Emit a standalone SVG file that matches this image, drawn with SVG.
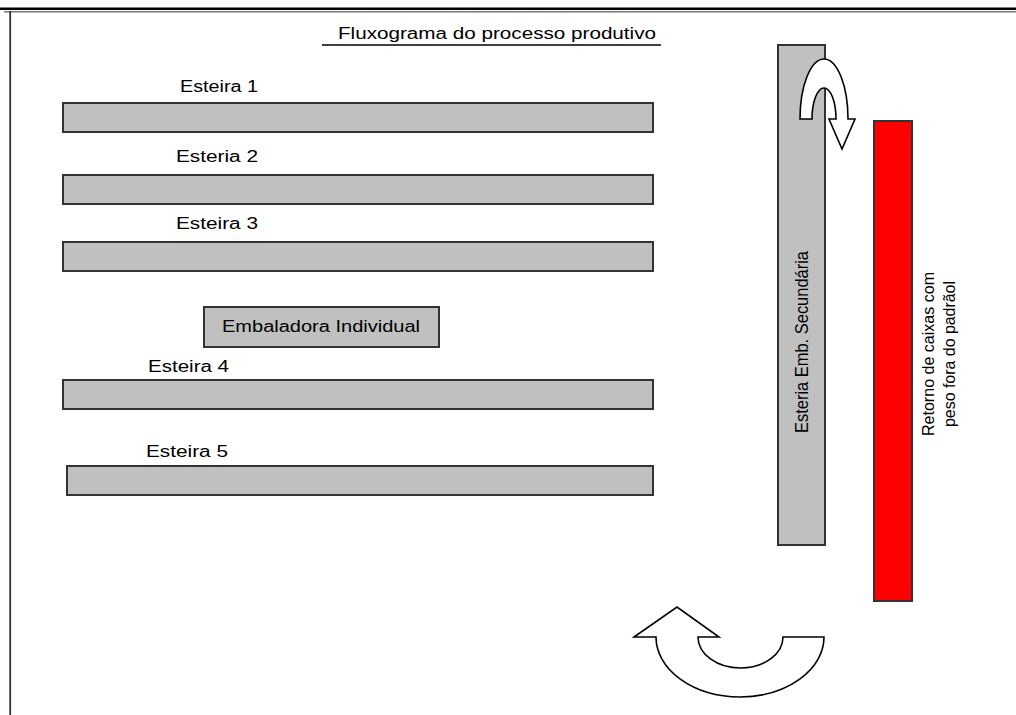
<svg xmlns="http://www.w3.org/2000/svg" width="1016" height="715" viewBox="0 0 1016 715">
<style>
.bar{fill:#c0c0c0;stroke:#333;stroke-width:2}
.red{fill:#ff0000;stroke:#333;stroke-width:2}
.lbl{font-family:"Liberation Sans",Arial,sans-serif;font-size:16px;fill:#000}
.arrow{fill:#fff;stroke:#000;stroke-width:1.6;stroke-linejoin:miter}
</style>
<rect x="0" y="0" width="1016" height="715" fill="#fff"/>
<g id="frame">
<rect x="0" y="7.5" width="1016" height="2.5" fill="#000"/>
<rect x="4" y="11" width="1012" height="1.5" fill="#777"/>
<rect x="9.3" y="11" width="1.8" height="704" fill="#333"/>
</g>
<g id="title">
<text class="lbl" x="338" y="39" textLength="318" lengthAdjust="spacingAndGlyphs">Fluxograma do processo produtivo</text>
<line x1="322" y1="45" x2="661" y2="45" stroke="#000" stroke-width="1.5"/>
</g>
<g id="esteira1">
<text class="lbl" x="180" y="92" textLength="78" lengthAdjust="spacingAndGlyphs">Esteira 1</text>
<rect class="bar" x="63" y="103" width="590" height="29"/>
</g>
<g id="esteira2">
<text class="lbl" x="176" y="162" textLength="82" lengthAdjust="spacingAndGlyphs">Esteria 2</text>
<rect class="bar" x="63" y="175" width="590" height="29"/>
</g>
<g id="esteira3">
<text class="lbl" x="176" y="229" textLength="82" lengthAdjust="spacingAndGlyphs">Esteira 3</text>
<rect class="bar" x="63" y="242" width="590" height="29"/>
</g>
<g id="embaladora">
<rect class="bar" x="204" y="307" width="235" height="40"/>
<text class="lbl" x="222" y="332" textLength="198" lengthAdjust="spacingAndGlyphs">Embaladora Individual</text>
</g>
<g id="esteira4">
<text class="lbl" x="148" y="372" textLength="81" lengthAdjust="spacingAndGlyphs">Esteira 4</text>
<rect class="bar" x="63" y="380" width="590" height="29"/>
</g>
<g id="esteira5">
<text class="lbl" x="146" y="457" textLength="82" lengthAdjust="spacingAndGlyphs">Esteira 5</text>
<rect class="bar" x="67" y="466" width="586" height="29"/>
</g>
<g id="secundaria">
<rect class="bar" x="778" y="45" width="47" height="500"/>
<text class="lbl" style="font-size:18px" text-anchor="middle" transform="translate(808,342) rotate(-90)" textLength="182" lengthAdjust="spacingAndGlyphs">Esteria Emb. Secundária</text>
</g>
<g id="retorno">
<rect class="red" x="874" y="121" width="38" height="480"/>
<text class="lbl" style="font-size:17px" text-anchor="middle" transform="translate(934,354) rotate(-90)" textLength="164" lengthAdjust="spacingAndGlyphs">Retorno de caixas com</text>
<text class="lbl" style="font-size:17px" text-anchor="middle" transform="translate(955,354) rotate(-90)" textLength="146" lengthAdjust="spacingAndGlyphs">peso fora do padrãol</text>
</g>
<g id="connectors">
<path class="arrow" d="M800,119 A24,60 0 0 1 848,119 L855,119 L842,149 L829,119 L836,119 A12,31 0 0 0 812,119 Z"/>
<path class="arrow" d="M824,637 L783,637 A42.5,31 0 0 1 698,637 L719,637 L677,607 L634,637 L656,637 A84,60 0 0 0 824,637 Z"/>
</g>
</svg>
